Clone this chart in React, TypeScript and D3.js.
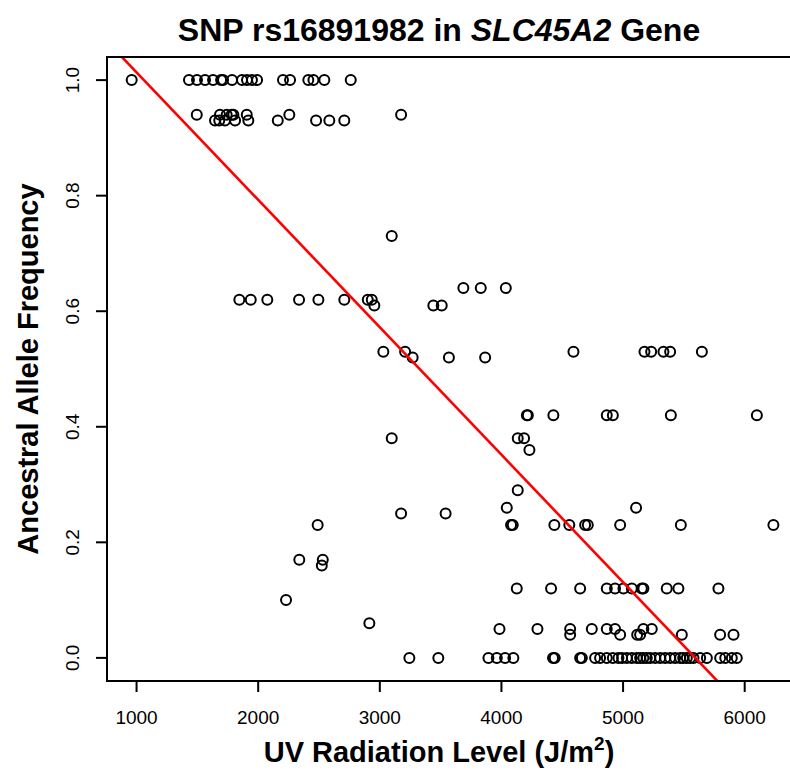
import { useEffect, useRef } from 'react';
import * as d3 from 'd3';

// ancestral allele frequency levels, and the UV levels of populations at each
const freqLevels = [1.0, 0.94, 0.93, 0.73, 0.64, 0.62, 0.61, 0.53, 0.52, 0.42, 0.38, 0.36, 0.29, 0.26, 0.25, 0.23, 0.17, 0.16, 0.12, 0.10, 0.06, 0.05, 0.04, 0.0]

const uvByLevel = [
  [960, 1431, 1497, 1563, 1629, 1695, 1711, 1785, 1867, 1908, 1949, 1991, 2204, 2262, 2412, 2454, 2544, 2761],
  [1495, 1686, 1741, 1782, 1796, 1906, 2256, 3175],
  [1645, 1680, 1727, 1810, 1919, 2161, 2476, 2585, 2708],
  [3098],
  [3687, 3830, 4036],
  [1845, 1939, 2075, 2336, 2495, 2708, 2901, 2934],
  [2955, 3440, 3509],
  [3029, 3208, 4592, 5176, 5231, 5332, 5387, 5648],
  [3270, 3568, 3866],
  [4209, 4217, 4427, 4866, 4916, 5393, 6100],
  [3098, 4134, 4186],
  [4230],
  [4134],
  [4044, 5107],
  [3175, 3541],
  [2489, 4079, 4093, 4435, 4558, 4688, 4710, 4976, 5475, 6236],
  [2338, 2531],
  [2523],
  [4126, 4408, 4647, 4866, 4934, 5003, 5072, 5154, 5167, 5359, 5455, 5784],
  [2229],
  [2914],
  [3984, 4296, 4565, 4743, 4866, 4934, 5167, 5236],
  [4565, 4976, 5116, 5140, 5483, 5798, 5908],
  [3243, 3481, 3893, 3962, 4030, 4098, 4424, 4438, 4647, 4661, 4770, 4811, 4866, 4916, 4962, 4992, 5031, 5072,
    5113, 5140, 5167, 5195, 5223, 5264, 5305, 5346, 5387, 5428, 5469, 5494, 5524, 5551, 5579, 5634, 5689,
    5798, 5840, 5894, 5935]
]

const xTicks = [1000, 2000, 3000, 4000, 5000, 6000]
const yTicks = [0.0, 0.2, 0.4, 0.6, 0.8, 1.0]

// fitted line
const fitIntercept = 1.234
const fitSlope = -0.0002206

function App() {
  const ref = useRef<SVGSVGElement>(null)

  useEffect(() => {
    document.body.style.margin = '0'
    drawScatter()
    // eslint-disable-next-line
  }, [])

  function drawScatter() {
    const config = {
      width: 790,
      height: 775,
      left: 107,
      right: 797,
      top: 57,
      bottom: 681
    }
    const font = '"Liberation Sans", Arial, Helvetica, sans-serif'

    const svg = d3.select(ref.current)
    svg.selectAll('*').remove()

    const x = d3.scaleLinear().domain([757, 6430]).range([config.left, config.right])
    const y = d3.scaleLinear().domain([-0.04, 1.04]).range([config.bottom, config.top])

    const points = freqLevels.flatMap((f, i) => uvByLevel[i].map(uv => ({ uv, f })))

    svg.append('defs').append('clipPath').attr('id', 'plot-clip')
      .append('rect')
      .attr('x', config.left).attr('y', config.top)
      .attr('width', config.right - config.left).attr('height', config.bottom - config.top)

    // points
    svg.append('g')
      .selectAll('circle')
      .data(points)
      .enter()
      .append('circle')
      .attr('cx', d => x(d.uv))
      .attr('cy', d => y(d.f))
      .attr('r', 5)
      .attr('fill', 'none')
      .attr('stroke', '#000')
      .attr('stroke-width', 2)

    // regression line
    const line = d3.line<number>()
      .x(d => x(d))
      .y(d => y(fitIntercept + fitSlope * d))
    svg.append('path')
      .datum(x.domain())
      .attr('d', line)
      .attr('clip-path', 'url(#plot-clip)')
      .attr('stroke', '#ff0000')
      .attr('stroke-width', 2.6)
      .attr('fill', 'none')

    // box
    svg.append('rect')
      .attr('x', config.left).attr('y', config.top)
      .attr('width', config.right - config.left).attr('height', config.bottom - config.top)
      .attr('fill', 'none')
      .attr('stroke', '#000')
      .attr('stroke-width', 2)

    // x axis
    const xAxis = svg.append('g')
    xAxis.append('line')
      .attr('x1', x(xTicks[0])).attr('x2', x(xTicks[xTicks.length - 1]))
      .attr('y1', config.bottom).attr('y2', config.bottom)
      .attr('stroke', '#000').attr('stroke-width', 2)
    xAxis.selectAll('.tick')
      .data(xTicks)
      .enter()
      .append('line')
      .attr('x1', d => x(d)).attr('x2', d => x(d))
      .attr('y1', config.bottom).attr('y2', config.bottom + 11)
      .attr('stroke', '#000').attr('stroke-width', 2)
    xAxis.selectAll('text')
      .data(xTicks)
      .enter()
      .append('text')
      .attr('x', d => x(d))
      .attr('y', 724)
      .attr('text-anchor', 'middle')
      .style('font-family', '"Liberation Sans Narrow", ' + font)
      .style('font-size', '19px')
      .text(d => d)

    // y axis
    const yAxis = svg.append('g')
    yAxis.append('line')
      .attr('x1', config.left).attr('x2', config.left)
      .attr('y1', y(yTicks[0])).attr('y2', y(yTicks[yTicks.length - 1]))
      .attr('stroke', '#000').attr('stroke-width', 2)
    yAxis.selectAll('.tick')
      .data(yTicks)
      .enter()
      .append('line')
      .attr('x1', config.left - 11).attr('x2', config.left)
      .attr('y1', d => y(d)).attr('y2', d => y(d))
      .attr('stroke', '#000').attr('stroke-width', 2)
    yAxis.selectAll('text')
      .data(yTicks)
      .enter()
      .append('text')
      .attr('transform', d => `translate(79, ${y(d)}) rotate(-90)`)
      .attr('text-anchor', 'middle')
      .style('font-family', '"Liberation Sans Narrow", ' + font)
      .style('font-size', '19px')
      .text(d => d.toFixed(1))

    // title
    const title = svg.append('text')
      .attr('x', 439)
      .attr('y', 41)
      .attr('text-anchor', 'middle')
      .style('font-family', font)
      .style('font-weight', 'bold')
      .style('font-size', '32px')
    title.append('tspan').text('SNP rs16891982 in ')
    title.append('tspan').style('font-style', 'italic').text('SLC45A2')
    title.append('tspan').text(' Gene')

    // axis titles
    const xLabel = svg.append('text')
      .attr('x', 439)
      .attr('y', 762)
      .attr('text-anchor', 'middle')
      .style('font-family', font)
      .style('font-weight', 'bold')
      .style('font-size', '29px')
    xLabel.append('tspan').text('UV Radiation Level (J/m')
    xLabel.append('tspan').attr('dy', -12).style('font-size', '19px').text('2')
    xLabel.append('tspan').attr('dy', 12).text(')')

    svg.append('text')
      .attr('transform', `translate(38, ${(config.top + config.bottom) / 2}) rotate(-90)`)
      .attr('text-anchor', 'middle')
      .style('font-family', font)
      .style('font-weight', 'bold')
      .style('font-size', '29px')
      .text('Ancestral Allele Frequency')
  }

  return (
    <svg ref={ref} width={790} height={775} style={{ display: 'block', background: '#fff' }}>
    </svg>
  )
}

export default App
